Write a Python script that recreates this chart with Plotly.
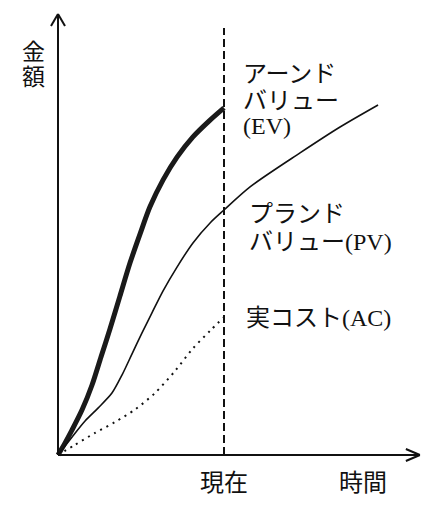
import plotly.graph_objects as go

# ---- data (time units, amount units) ----
ev_t = [0, 0.42, 0.84, 1.45, 2.05, 2.59, 3.13, 3.73, 4.34, 4.94, 5.54, 6.33, 7.17, 8.13, 9.16, 10]
ev_v = [0, 3.4, 7.1, 12.9, 20.0, 28.0, 36.0, 45.4, 54.9, 63.1, 70.9, 78.6, 85.1, 90.9, 95.7, 99.2]

pv_t = [0, 0.84, 1.63, 2.41, 3.25, 3.86, 4.46, 5.06, 5.66, 6.33, 7.17, 8.13, 9.16, 10, 11.57, 14.58, 16.99, 19.28]
pv_v = [0, 5.1, 9.7, 13.4, 17.7, 22.9, 28.9, 34.9, 40.6, 46.9, 53.7, 60.6, 66.3, 70.0, 76.6, 86.3, 93.7, 100]

ac_t = [0, 1.02, 2.23, 3.43, 4.64, 5.84, 7.05, 8.1, 9.16, 10]
ac_v = [0, 2.9, 6.3, 9.4, 13.0, 17.7, 24.0, 30.3, 35.5, 39.4]

now_t = 10          # 現在
now_top = 122       # top of the dashed "now" line
x_axis_max = 21.8   # end of time axis arrow
y_axis_max = 126    # end of amount axis arrow

x_label = "時間"
now_label = "現在"
y_label = ["金", "額"]
ev_label = ["アーンド", "バリュー", "(EV)"]
pv_label = ["プランド", "バリュー(PV)"]
ac_label = ["実コスト(AC)"]

# ---- layout constants ----
W, H = 438, 512
X0_PX, Y0_PX = 58, 455
PX_X, PX_Y = 16.6, 3.5
FONT = "Liberation Serif, Noto Sans CJK JP, serif"
FS = 24

fig = go.Figure()

fig.add_trace(go.Scatter(x=ev_t, y=ev_v, mode="lines", line=dict(color="#1a1a1a", width=5, shape="spline", smoothing=0.8),
                         hoverinfo="skip", showlegend=False))
fig.add_trace(go.Scatter(x=pv_t, y=pv_v, mode="lines", line=dict(color="#111", width=1.6, shape="spline", smoothing=0.8),
                         hoverinfo="skip", showlegend=False))
fig.add_trace(go.Scatter(x=ac_t, y=ac_v, mode="lines", line=dict(color="#111", width=2, shape="spline", smoothing=0.8, dash="2px,5px"),
                         hoverinfo="skip", showlegend=False))

shapes = []
# axes
shapes.append(dict(type="line", xref="x", yref="y", x0=0, y0=0, x1=x_axis_max, y1=0, line=dict(color="#111", width=2)))
shapes.append(dict(type="line", xref="x", yref="y", x0=0, y0=0, x1=0, y1=y_axis_max, line=dict(color="#111", width=2)))
# arrow heads (open V)
ax_back, ax_half = 14 / PX_X, 6 / PX_Y
for s in (1, -1):
    shapes.append(dict(type="line", xref="x", yref="y", x0=x_axis_max - ax_back, y0=s * ax_half,
                       x1=x_axis_max, y1=0, line=dict(color="#111", width=2)))
ay_back, ay_half = 12 / PX_Y, 7 / PX_X
for s in (1, -1):
    shapes.append(dict(type="line", xref="x", yref="y", x0=s * ay_half, y0=y_axis_max - ay_back,
                       x1=0, y1=y_axis_max, line=dict(color="#111", width=2)))
# now line
shapes.append(dict(type="line", xref="x", yref="y", x0=now_t, y0=0, x1=now_t, y1=now_top,
                   line=dict(color="#111", width=2, dash="8px,4px")))

fig.update_layout(shapes=shapes)

def px_x(p):
    return (p - X0_PX) / PX_X

def px_y(p):
    return (Y0_PX - p) / PX_Y

ann = []
def label(text, x, y, xanchor="left", size=FS):
    ann.append(dict(text=text, x=x, y=y, xref="x", yref="y", showarrow=False, xanchor=xanchor, yanchor="middle",
                    borderpad=0, borderwidth=0,
                    font=dict(family=FONT, size=size, color="#111")))

for txt, py in zip(y_label, [52, 77]):
    label(txt, px_x(33), px_y(py), xanchor="center", size=23)
for txt, py in zip(ev_label, [74, 101, 126]):
    label(txt, px_x(243), px_y(py))
for txt, py in zip(pv_label, [214, 242]):
    label(txt, px_x(249), px_y(py))
for txt, py in zip(ac_label, [318]):
    label(txt, px_x(246), px_y(py))
label(now_label, now_t, px_y(483), xanchor="center")
label(x_label, px_x(363), px_y(483), xanchor="center")

fig.update_layout(
    annotations=ann,
    width=W, height=H,
    margin=dict(l=0, r=0, t=0, b=0),
    paper_bgcolor="white", plot_bgcolor="white",
    xaxis=dict(range=[px_x(0), px_x(W)], visible=False, fixedrange=True),
    yaxis=dict(range=[px_y(H), px_y(0)], visible=False, fixedrange=True),
)

fig.write_html("out.html", config={"displayModeBar": False, "staticPlot": True},
               post_script="document.body.style.margin='0px';document.body.style.padding='0px';document.body.style.overflow='hidden';")
